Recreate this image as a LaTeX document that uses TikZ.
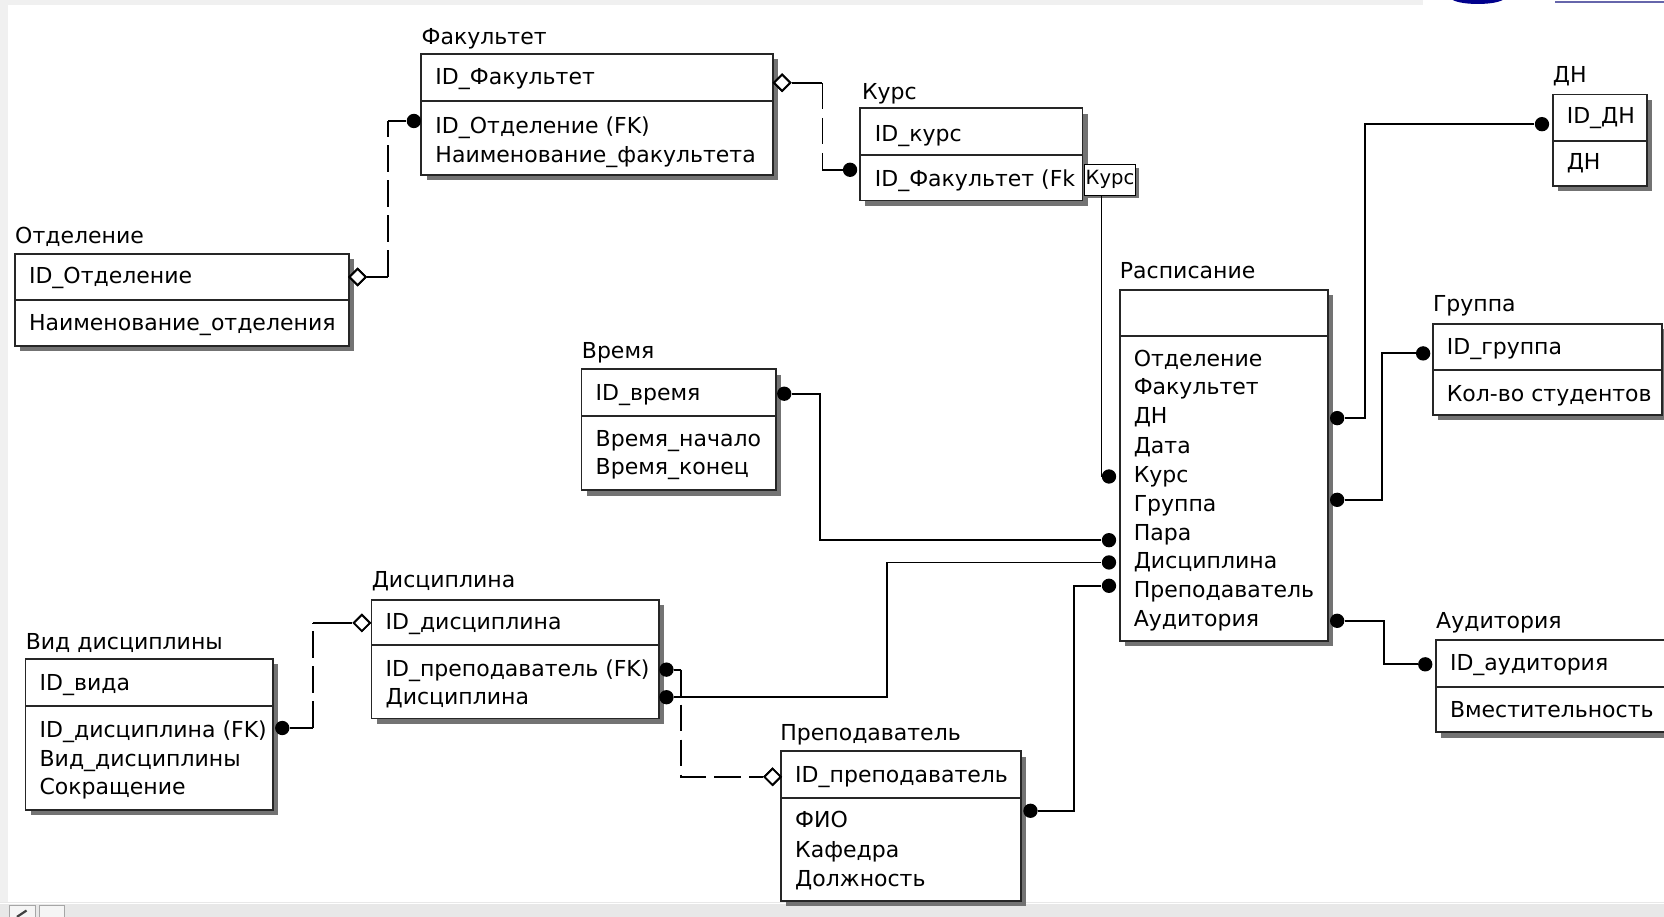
\documentclass[tikz,border=0pt]{standalone}
\usepackage{fontspec}
\setmainfont{DejaVu Sans}
\usetikzlibrary{shadows,fit,shapes.geometric}
\begin{document}
\begin{tikzpicture}[x=0.02cm,y=-0.02cm,
  every node/.style={font=\fontsize{11.8}{14}\selectfont},
  ebox/.style={draw=black!85, line width=1pt, fill=white, inner sep=0pt,
    drop shadow={shadow xshift=0.1cm, shadow yshift=-0.1cm, fill=black!55, opacity=1}},
  etxt/.style={anchor=base west, inner sep=0pt},
  edot/.style={circle, fill=black, inner sep=0pt, minimum size=0.27cm},
  edia/.style={diamond, draw=black, fill=white, line width=1pt, inner sep=0pt, minimum width=0.32cm, minimum height=0.32cm},
  rel/.style={line width=1pt},
  reld/.style={rel, dash pattern=on 0.5cm off 0.16cm},
]
\useasboundingbox (0,0) rectangle (1568,864);
\fill[white] (0,0) rectangle (1568,864);
% window frame
\fill[black!6] (0,0) rectangle (1341,4.4);
\fill[black!6] (0,0) rectangle (8,864);
\fill[black!9] (0,850) rectangle (1568,864);
\draw[white, line width=0.6pt] (0,851.5) -- (1568,851.5);
\draw[black!35, fill=black!4] (9,853) rectangle (33,866);
\draw[black!35, fill=black!4] (37,853) rectangle (61,866);
\draw[black!75, line width=1.2pt] (16,864) -- (25,858);
\fill[blue!55!black] (1369,0) .. controls (1378,5) and (1407,5) .. (1416,0) -- cycle;
\fill[blue!45!black!60!white] (1465,0.5) rectangle (1568,3);

% ---------- entities ----------
% Отделение
\node[ebox, fit={(14,239) (329,283)}] (otd-k) {};
\node[ebox, fit={(14,283) (329,326)}] (otd-a) {};
\node[etxt] (otd-t) at (14,229) {Отделение};
\node[etxt] (otd-1) at (27,267) {ID\_Отделение};
\node[etxt] (otd-2) at (27,311) {Наименование\_отделения};
% Факультет
\node[ebox, fit={(397,51) (728,95)}] (fak-k) {};
\node[ebox, fit={(397,95) (728,165)}] (fak-a) {};
\node[etxt] (fak-t) at (397,42) {Факультет};
\node[etxt] (fak-1) at (410,80) {ID\_Факультет};
\node[etxt] (fak-2) at (410,126) {ID\_Отделение (FK)};
\node[etxt] (fak-3) at (410,153) {Наименование\_факультета};
% Курс
\node[ebox, fit={(810,102) (1020,146)}] (kur-k) {};
\node[ebox, fit={(810,146) (1020,189)}] (kur-a) {};
\node[etxt] (kur-t) at (812,94) {Курс};
\node[etxt] (kur-1) at (824,133) {ID\_курс};
\node[etxt] (kur-2) at (824,176) {ID\_Факультет (Fk};
\node[draw=black, line width=0.8pt, fill=white, inner sep=0pt, minimum width=0.96cm, minimum height=0.58cm,
  font=\fontsize{10.5}{12}\selectfont,
  drop shadow={shadow xshift=0.06cm, shadow yshift=-0.06cm, fill=black!55, opacity=1}] (klab) at (1046,169.5) {Курс};
% ДН
\node[ebox, fit={(1463,89) (1552,133)}] (dn-k) {};
\node[ebox, fit={(1463,133) (1552,175)}] (dn-a) {};
\node[etxt] (dn-t) at (1463,78) {ДН};
\node[etxt] (dn-1) at (1476,116) {ID\_ДН};
\node[etxt] (dn-2) at (1476,160) {ДН};
% Расписание
\node[ebox, fit={(1055,273) (1251,317)}] (ras-k) {};
\node[ebox, fit={(1055,317) (1251,604)}] (ras-a) {};
\node[etxt] (ras-t) at (1055,262) {Расписание};
\node[etxt] (ras-1) at (1068,345) {Отделение};
\node[etxt] (ras-2) at (1068,372) {Факультет};
\node[etxt] (ras-3) at (1068,399) {ДН};
\node[etxt] (ras-4) at (1068,427) {Дата};
\node[etxt] (ras-5) at (1068,455) {Курс};
\node[etxt] (ras-6) at (1068,482) {Группа};
\node[etxt] (ras-7) at (1068,509) {Пара};
\node[etxt] (ras-8) at (1068,536) {Дисциплина};
\node[etxt] (ras-9) at (1068,563) {Преподаватель};
\node[etxt] (ras-10) at (1068,590) {Аудитория};
% Группа
\node[ebox, fit={(1350,305) (1566,349)}] (gr-k) {};
\node[ebox, fit={(1350,349) (1566,391)}] (gr-a) {};
\node[etxt] (gr-t) at (1350,294) {Группа};
\node[etxt] (gr-1) at (1363,334) {ID\_группа};
\node[etxt] (gr-2) at (1363,378) {Кол-во студентов};
% Время
\node[ebox, fit={(548,348) (731,392)}] (vr-k) {};
\node[ebox, fit={(548,392) (731,462)}] (vr-a) {};
\node[etxt] (vr-t) at (548,338) {Время};
\node[etxt] (vr-1) at (561,377) {ID\_время};
\node[etxt] (vr-2) at (561,421) {Время\_начало};
\node[etxt] (vr-3) at (561,447) {Время\_конец};
% Аудитория
\node[ebox, fit={(1353,603) (1600,647)}] (au-k) {};
\node[ebox, fit={(1353,647) (1600,690)}] (au-a) {};
\node[etxt] (au-t) at (1353,592) {Аудитория};
\node[etxt] (au-1) at (1366,632) {ID\_аудитория};
\node[etxt] (au-2) at (1366,676) {Вместительность};
% Дисциплина
\node[ebox, fit={(350,565) (621,608)}] (ds-k) {};
\node[ebox, fit={(350,608) (621,677)}] (ds-a) {};
\node[etxt] (ds-t) at (350,554) {Дисциплина};
\node[etxt] (ds-1) at (363,593) {ID\_дисциплина};
\node[etxt] (ds-2) at (363,637) {ID\_преподаватель (FK)};
\node[etxt] (ds-3) at (363,664) {Дисциплина};
% Вид дисциплины
\node[ebox, fit={(24,621) (257,665)}] (vd-k) {};
\node[ebox, fit={(24,665) (257,763)}] (vd-a) {};
\node[etxt] (vd-t) at (24,612) {Вид дисциплины};
\node[etxt] (vd-1) at (37,651) {ID\_вида};
\node[etxt] (vd-2) at (37,695) {ID\_дисциплина (FK)};
\node[etxt] (vd-3) at (37,722) {Вид\_дисциплины};
\node[etxt] (vd-4) at (37,749) {Сокращение};
% Преподаватель
\node[ebox, fit={(736,708) (962,752)}] (pr-k) {};
\node[ebox, fit={(736,752) (962,849)}] (pr-a) {};
\node[etxt] (pr-t) at (735,698) {Преподаватель};
\node[etxt] (pr-1) at (749,737) {ID\_преподаватель};
\node[etxt] (pr-2) at (749,780) {ФИО};
\node[etxt] (pr-3) at (749,808) {Кафедра};
\node[etxt] (pr-4) at (749,835) {Должность};

% ---------- relationship ends ----------
\node[edia] (m1) at (337,261) {};
\node[edot] (p1) at (390,114) {};
\node[edia] (m2) at (737,78) {};
\node[edot] (p2) at (801,160) {};
\node[edot] (p3) at (1045,449) {};
\node[edot] (q4) at (1260,394) {};
\node[edot] (p4) at (1453,117) {};
\node[edot] (q5) at (1260,471) {};
\node[edot] (p5) at (1341,333) {};
\node[edot] (q6) at (1260,585) {};
\node[edot] (p6) at (1343,626) {};
\node[edot] (q7) at (739,371) {};
\node[edot] (p7) at (1045,509) {};
\node[edot] (q8) at (628,657) {};
\node[edot] (p8) at (1045,530) {};
\node[edot] (q9) at (971,764) {};
\node[edot] (p9) at (1045,552) {};
\node[edot] (q10) at (628,631) {};
\node[edia] (m10) at (728,732) {};
\node[edot] (q11) at (266,686) {};
\node[edia] (m11) at (341,587) {};

% corners
\coordinate (c1a) at (366,261); \coordinate (c1b) at (366,114);
\coordinate (c2a) at (775,78);  \coordinate (c2b) at (775,160);
\coordinate (c10a) at (642,631); \coordinate (c10b) at (642,732); \coordinate (c10c) at (712,732);
\coordinate (c11a) at (295,686); \coordinate (c11b) at (295,587);

% ---------- connectors ----------
\draw[rel] (m1.east) -- (c1a);
\draw[reld] (c1a) -- (c1b);
\draw[rel] (c1b) -- (p1);

\draw[rel] (m2.east) -- (c2a);
\draw[reld] (c2a) -- (c2b);
\draw[rel] (c2b) -- (p2);

\draw[rel] (klab.south -| 1038,0) |- (p3);
\draw[rel] (q4) -- (1286,394) |- (p4);
\draw[rel] (q5) -- (1302,471) |- (p5);
\draw[rel] (q6) -- (1304,585) |- (p6);
\draw[rel] (q7) -- (773,371) |- (p7);
\draw[rel] (q8) -- (836,657) |- (p8);
\draw[rel] (q9) -- (1012,764) |- (p9);

\draw[rel] (q10) -- (c10a);
\draw[reld] (c10a) -- (c10b) -- (c10c);
\draw[rel] (c10c) -- (m10.west);

\draw[rel] (q11) -- (c11a);
\draw[reld] (c11a) -- (c11b);
\draw[rel] (c11b) -- (m11.west);

% redraw ends on top
\node[edia] at (m1) {};
\node[edia] at (m2) {};
\node[edia] at (m10) {};
\node[edia] at (m11) {};
\end{tikzpicture}
\end{document}
